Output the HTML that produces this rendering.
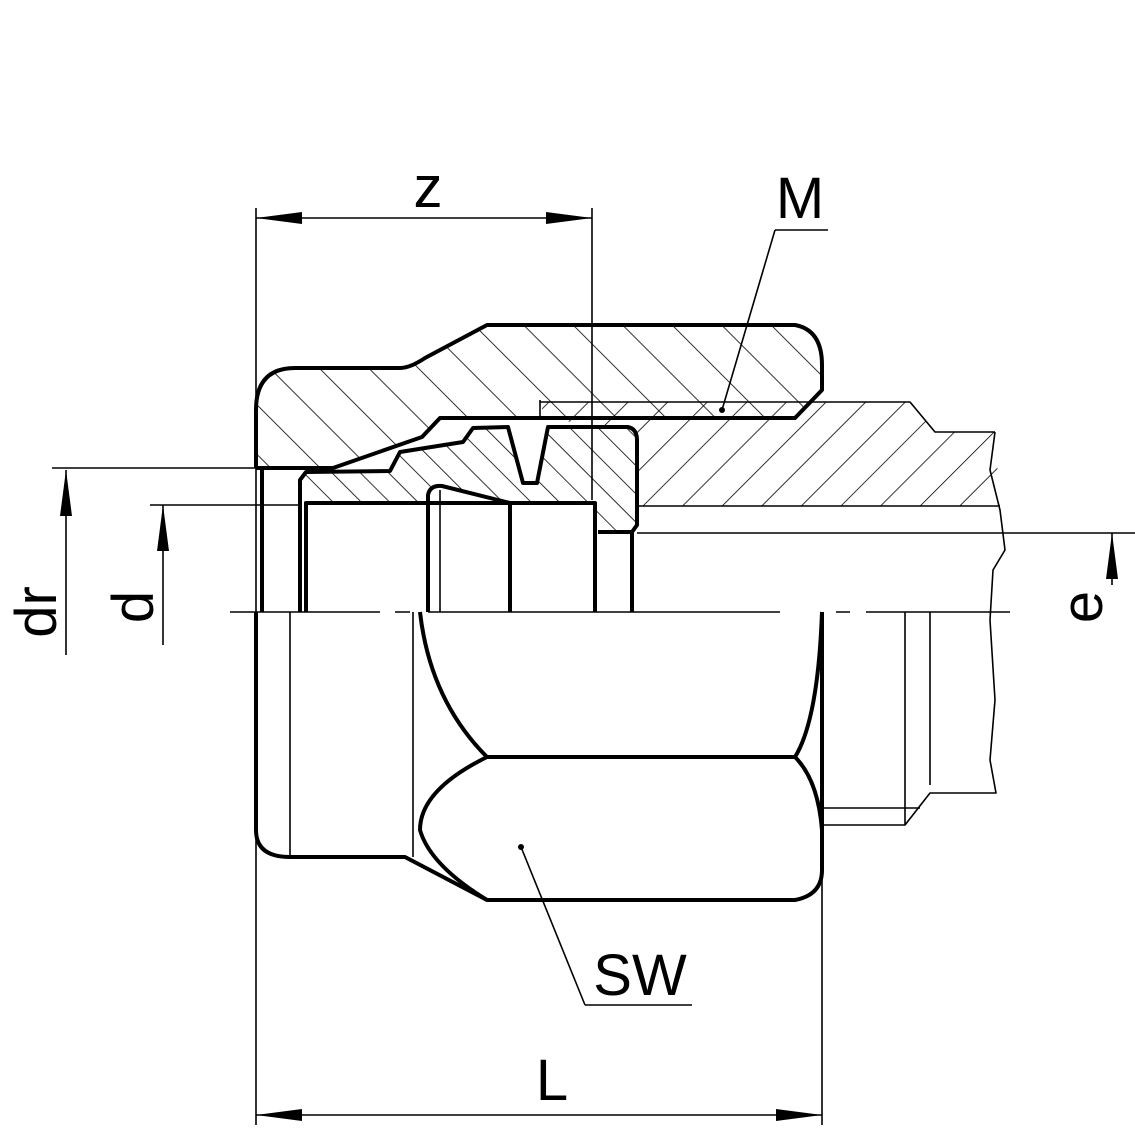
<!DOCTYPE html>
<html><head><style>html,body{margin:0;padding:0;background:#fff}svg{display:block}</style></head>
<body>
<svg width="1135" height="1135" viewBox="0 0 1135 1135" xmlns="http://www.w3.org/2000/svg" font-family="Liberation Sans, sans-serif">
<defs>
<pattern id="hb" width="35" height="35" patternUnits="userSpaceOnUse" patternTransform="rotate(-45)">
<line x1="0" y1="0" x2="0" y2="35" stroke="#000" stroke-width="1.6"/></pattern>
<pattern id="hf" width="28" height="28" patternUnits="userSpaceOnUse" patternTransform="rotate(45)">
<line x1="0" y1="0" x2="0" y2="28" stroke="#000" stroke-width="1.6"/></pattern>
<pattern id="hs" width="20" height="20" patternUnits="userSpaceOnUse" patternTransform="rotate(-45)">
<line x1="0" y1="0" x2="0" y2="20" stroke="#000" stroke-width="1.6"/></pattern>
</defs>
<rect width="1135" height="1135" fill="#fff"/>
<path d="M540,402 L910,402 L935,432 L995,432 L1000,506 L637,506 L637,432 L545,418Z" fill="url(#hf)"/>
<path d="M256,410 Q256,368 295,368 L400,368 Q410,368 425,358 L487,325 L795,325 Q822,330 822,365 L822,390 L795,418 L440,418 L422,437 L333,468 L256,468Z" fill="url(#hb)"/>
<path d="M300,475 L390,471 L400,452 L463,442 L473,428 L508,427 L523,483 L537,483 L548,427 L630,427 L637,437 L637,530 L598,530 L595,503 L510,503 L440,485 L428,490 L428,503 L305,503 L300,490Z" fill="url(#hs)"/>

<g fill="none" stroke="#000" stroke-linejoin="round">
<g stroke-width="1.6">
<path d="M540,402 L910,402 L935,432 L995,432"/>
<line x1="637" y1="506" x2="1000" y2="506"/>
<line x1="637" y1="533" x2="1135" y2="533"/>
<path d="M995,432 L990,470 L1000,510 L1005,550 L993,570 L990,620 L995,700 L990,760 L996,793 L930,793 L905,825 L822,825"/>
<line x1="822" y1="808" x2="920" y2="808"/>
<line x1="905" y1="612" x2="905" y2="825"/>
<line x1="930" y1="612" x2="930" y2="785"/>
<line x1="290" y1="612" x2="290" y2="857"/>
<line x1="413" y1="612" x2="413" y2="857"/>
<line x1="440" y1="490" x2="440" y2="612"/>
<line x1="592" y1="208" x2="592" y2="500"/>
<line x1="540" y1="400" x2="540" y2="420"/>
<line x1="256" y1="208" x2="256" y2="1125"/>
<line x1="822" y1="870" x2="822" y2="1125"/>
<line x1="256" y1="218" x2="592" y2="218"/>
<line x1="256" y1="1115" x2="822" y2="1115"/>
<line x1="52" y1="468" x2="256" y2="468"/>
<line x1="66" y1="470" x2="66" y2="655"/>
<line x1="150" y1="505" x2="300" y2="505"/>
<line x1="163" y1="505" x2="163" y2="645"/>
<line x1="1112" y1="533" x2="1112" y2="585"/>
<line x1="775" y1="230" x2="828" y2="230"/><line x1="775" y1="230" x2="722" y2="410"/>
<line x1="585" y1="1005" x2="692" y2="1005"/><line x1="585" y1="1005" x2="521" y2="847"/>
<path d="M230,612 H380 M395,612 H410 M428,612 H780 M836,612 H850 M866,612 H1010"/>
</g>
<g stroke-width="4">
<path d="M256,468 L256,410 Q256,368 295,368 L400,368 Q410,368 425,358 L487,325 L795,325 Q822,330 822,365 L822,390 L795,418 L440,418 L422,437 L333,468 L256,468"/>
<path d="M256,612 L256,830 Q256,857 290,857 L405,857 L487,900 L795,900 Q822,895 822,870 L822,612"/>
<path d="M262,470 L262,612"/>
<path d="M487,757 L795,757"/>
<path d="M420,612 Q430,700 487,757 Q420,790 420,830 Q430,865 487,900"/>
<path d="M795,757 Q818,720 822,612"/>
<path d="M795,757 Q818,780 822,830"/>
<path d="M300,612 L300,480 L306,472 L390,471 L400,452 L463,442 L473,428 L508,427 L523,483 L537,483 L548,427 L628,427 Q637,429 637,440 L637,525 L632,532 L598,532"/>
<path d="M306,612 L306,503 L595,503 L595,612"/>
<path d="M428,612 L428,495 Q430,485 442,486 L510,503 L510,612"/>
<path d="M632,532 L632,612"/>
</g>
</g>
<g fill="#000">
<circle cx="722" cy="410" r="3"/><circle cx="521" cy="847" r="3"/>
<path d="M256,218 L302,212 L302,224Z"/><path d="M592,218 L546,212 L546,224Z"/>
<path d="M256,1115 L302,1109 L302,1121Z"/><path d="M822,1115 L776,1109 L776,1121Z"/>
<path d="M66,470 L60,516 L72,516Z"/><path d="M163,505 L157,551 L169,551Z"/>
<path d="M1112,533 L1106,579 L1118,579Z"/>
</g>
<g font-size="58" fill="#000">
<text x="428" y="207" text-anchor="middle">z</text>
<text x="800" y="218" text-anchor="middle">M</text>
<text x="640" y="995" text-anchor="middle">SW</text>
<text x="552" y="1100" text-anchor="middle">L</text>
<text transform="translate(56,612) rotate(-90)" text-anchor="middle">dr</text>
<text transform="translate(153,607) rotate(-90)" text-anchor="middle">d</text>
<text transform="translate(1102,607) rotate(-90)" text-anchor="middle">e</text>
</g>
</svg>
</body></html>
